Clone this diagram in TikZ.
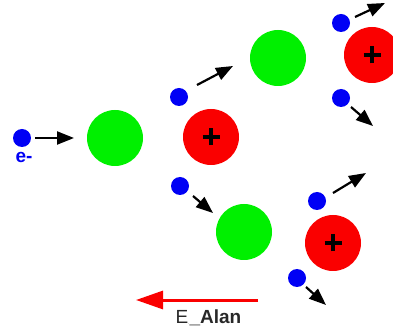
\documentclass[tikz,border=0pt]{standalone}
\usepackage{fontspec}
\setmainfont{Liberation Sans}
\usetikzlibrary{arrows.meta}
\definecolor{ngreen}{RGB}{0,240,0}
\definecolor{nred}{RGB}{250,0,0}
\definecolor{nblue}{RGB}{0,0,245}
\definecolor{tgray}{RGB}{40,40,40}
\tikzset{
  atomg/.style={circle,fill=ngreen,minimum size=56pt,inner sep=0pt},
  atomr/.style={circle,fill=nred,minimum size=56pt,inner sep=0pt},
  elec/.style={circle,fill=nblue,minimum size=18pt,inner sep=0pt},
  motion/.style={line width=2.2pt,-{Triangle[length=17pt,width=13pt]}},
}
\newcommand{\plussign}[1]{\draw[line width=3.6pt] ([xshift=-8.5pt]#1.center) -- ([xshift=8.5pt]#1.center) ([yshift=-8.5pt]#1.center) -- ([yshift=8.5pt]#1.center);}
\begin{document}
\begin{tikzpicture}[x=1pt,y=-1pt]
\useasboundingbox (0,0) rectangle (393,336);
\clip (0,0) rectangle (393,336);
% atoms
\node[atomg] (g1) at (115,138) {};
\node[atomr] (r1) at (211,137) {};
\node[atomg] (g2) at (278,58) {};
\node[atomg] (g3) at (244,232) {};
\node[atomr] (r2) at (372,55) {};
\node[atomr] (r3) at (333,243) {};
\plussign{r1}
\plussign{r2}
\plussign{r3}
% electrons
\node[elec] (e1) at (22,138) {};
\node[font=\bfseries\fontsize{19}{19}\selectfont,text=nblue] (l1) at (24,157) {e-};
\node[elec] (e2) at (179,97) {};
\node[elec] (e3) at (180,186) {};
\node[elec] (e4) at (341,23) {};
\node[elec] (e5) at (341,98) {};
\node[elec] (e6) at (317,201) {};
\node[elec] (e7) at (297,278) {};
% arrow ends
\coordinate (a1s) at (35,138); \coordinate (a1e) at (74,138);
\coordinate (a2s) at (197,85); \coordinate (a2e) at (233,66);
\coordinate (a3s) at (193,196); \coordinate (a3e) at (213,213);
\coordinate (a4s) at (355,17); \coordinate (a4e) at (385,3);
\coordinate (a5s) at (351,107); \coordinate (a5e) at (373,126);
\coordinate (a6s) at (333,193); \coordinate (a6e) at (366,173);
\coordinate (a7s) at (306,287); \coordinate (a7e) at (326,305);
\draw[motion] (a1s) -- (a1e);
\draw[motion] (a2s) -- (a2e);
\draw[motion] (a3s) -- (a3e);
\draw[motion] (a4s) -- (a4e);
\draw[motion] (a5s) -- (a5e);
\draw[motion] (a6s) -- (a6e);
\draw[motion] (a7s) -- (a7e);
% field
\coordinate (fs) at (258,300); \coordinate (fe) at (136,300);
\draw[nred,line width=3pt,-{Triangle[length=27pt,width=18pt]}] (fs) -- (fe);
\node[text=tgray,font=\fontsize{19}{19}\selectfont,anchor=west] (lab) at (172,318) {E\raisebox{-1pt}{\tiny\textcolor{gray}{.}}\textbf{\_Alan}};
\end{tikzpicture}
\end{document}
